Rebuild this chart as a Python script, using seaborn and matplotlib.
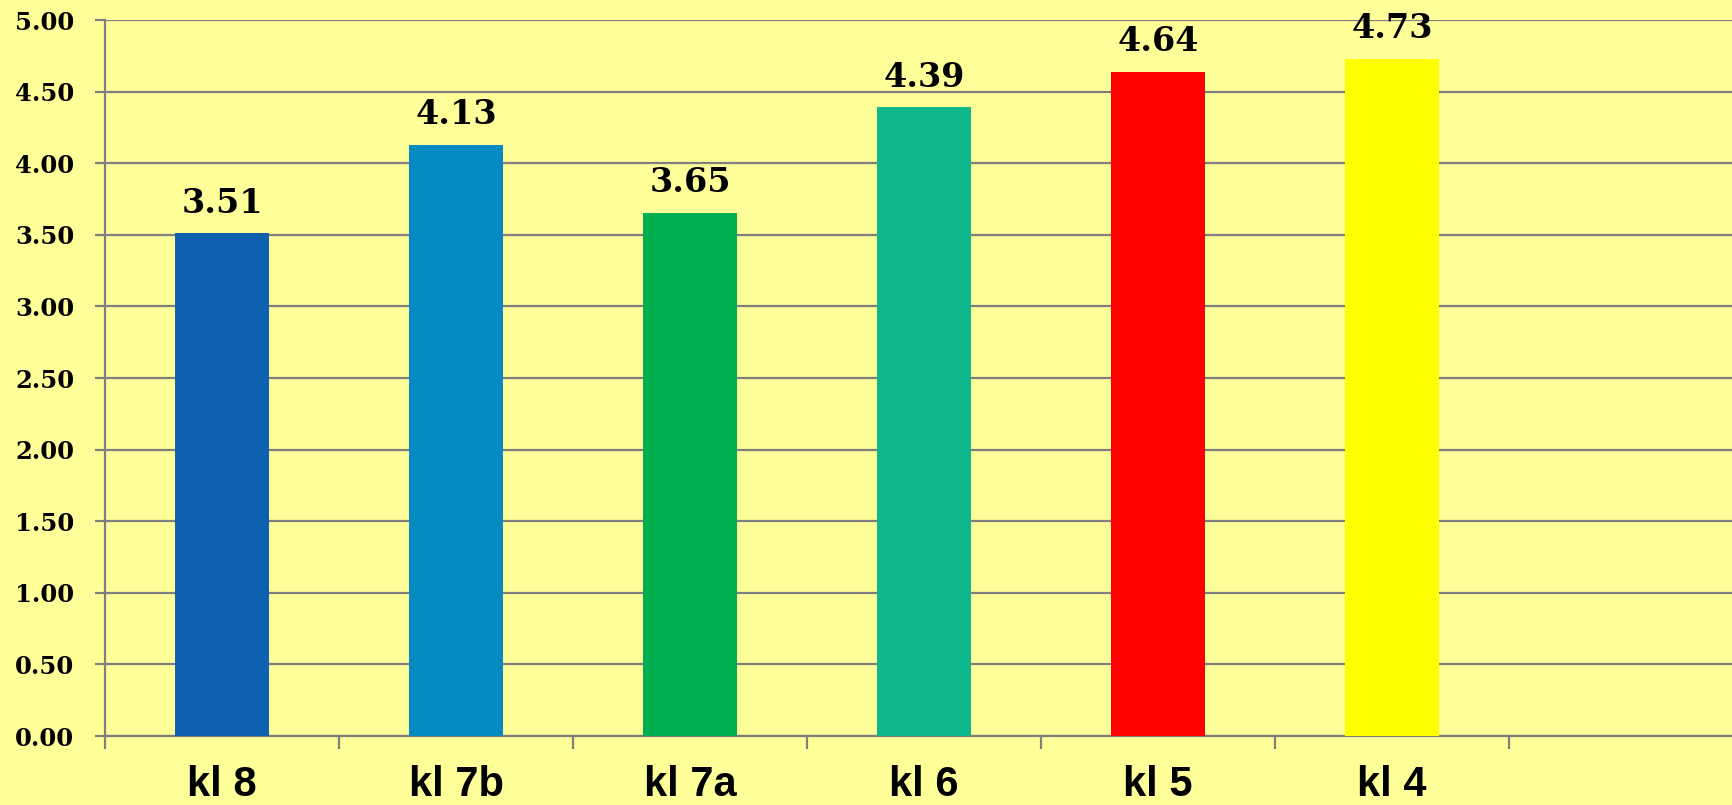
import matplotlib
matplotlib.use("Agg")
import matplotlib.pyplot as plt
import seaborn as sns
import pandas as pd
import numpy as np
from matplotlib.ticker import MultipleLocator, FixedLocator, FormatStrFormatter

categories = ["kl 8", "kl 7b", "kl 7a", "kl 6", "kl 5", "kl 4"]
values = [3.51, 4.13, 3.65, 4.39, 4.64, 4.73]
bar_colors = ["#0E61AE", "#058BC1", "#00AF50", "#10B78A", "#FF0000", "#FFFF00"]
n_slots = 7

sns.set_theme(style="white")
plt.rcParams['font.family'] = ['DejaVu Serif']

df = pd.DataFrame({"cat": categories, "val": values})

fig = plt.figure(figsize=(17.32, 8.05), dpi=100)
fig.patch.set_facecolor("#FFFF99")
ax = fig.add_axes([105/1732, 69/805, n_slots*234/1732, 716/805])
ax.set_facecolor("#FFFF99")

sns.barplot(data=df, x="cat", y="val", hue="cat", palette=bar_colors,
            order=categories, width=0.405, legend=False, ax=ax, saturation=1,
            linewidth=0, edgecolor="none", zorder=3)

ax.set_xlim(-0.5, n_slots - 0.5)
ax.set_ylim(0, 5.0)
ax.yaxis.set_major_locator(MultipleLocator(0.5))
ax.yaxis.set_major_formatter(FormatStrFormatter("%.2f"))
ax.grid(axis="y", color="#7F7F7F", linewidth=1.6, zorder=0)
ax.set_axisbelow(True)

for s in ["top", "right"]:
    ax.spines[s].set_visible(False)
for s in ["left", "bottom"]:
    ax.spines[s].set_color("#7F7F7F")
    ax.spines[s].set_linewidth(1.6)

ax.set_xlabel("")
ax.set_ylabel("")

# category boundary ticks
ax.xaxis.set_minor_locator(FixedLocator(np.arange(-0.5, n_slots, 1.0)))
ax.tick_params(axis="x", which="minor", bottom=True, length=9.5, width=1.6,
               color="#7F7F7F", direction="out")
ax.tick_params(axis="x", which="major", bottom=True, length=0, pad=21)
ax.tick_params(axis="y", which="major", left=True, length=7.2, width=1.6,
               color="#7F7F7F", direction="out", pad=15)

for lab in ax.get_xticklabels():
    lab.set_fontfamily("Liberation Sans")
    lab.set_fontweight("bold")
    lab.set_fontsize(30)
    lab.set_color("black")
for lab in ax.get_yticklabels():
    lab.set_fontfamily("DejaVu Serif")
    lab.set_fontweight("bold")
    lab.set_fontsize(17.5)
    lab.set_color("black")

for i, v in enumerate(values):
    ax.annotate(f"{v:.2f}", xy=(i, v), xytext=(0, 15), textcoords="offset points",
                ha="center", va="baseline", fontsize=24, fontweight="bold",
                fontfamily="DejaVu Serif", color="black", annotation_clip=False)

fig.savefig("out.png", dpi=100, facecolor=fig.get_facecolor())
